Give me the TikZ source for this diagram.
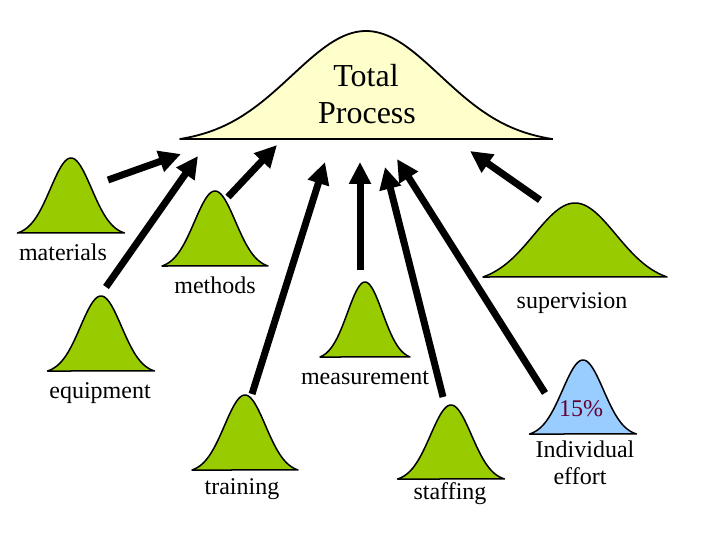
\documentclass[tikz,border=0pt]{standalone}
\usepackage{fontspec}
\setmainfont{Liberation Serif}
\usetikzlibrary{arrows.meta}
\definecolor{bellgreen}{HTML}{99CC00}
\definecolor{bellblue}{HTML}{99CCFF}
\definecolor{bellyellow}{HTML}{FFFFCC}
\definecolor{pctred}{HTML}{660033}
\newcommand{\bellcurve}[8]{% name, cx, by, halfw, h, sigma, fill, linewidth
  \pgfmathsetmacro{\bk}{#4/#6}%
  \pgfmathsetmacro{\bz}{exp(-\bk*\bk/2)}%
  \draw[line width=#8, line join=round, fill=#7]
    plot[domain=-\bk:\bk, samples=90, smooth] ({#2+\x*#6}, {#3-#5*(exp(-\x*\x/2)-\bz)/(1-\bz)}) -- cycle;
  \coordinate (#1) at (#2,#3);
}
\tikzset{
  bigarrow/.style={line width=7pt, -{Triangle[length=22pt,width=21pt]}},
  lbl/.style={font=\fontsize{24}{29}\selectfont, anchor=base, inner sep=0pt},
}
\begin{document}
\begin{tikzpicture}[x=1pt,y=-1pt]
\useasboundingbox (0,0) rectangle (720,540);
\fill[white] (0,0) rectangle (720,540);
% bells
\bellcurve{total}{366}{139}{186}{108}{74}{bellyellow}{1.8pt}
\draw[line width=2.5pt] (180,139) -- (553,139);
\bellcurve{materials}{71}{233}{53.5}{75}{20.5}{bellgreen}{1.5pt}
\bellcurve{methods}{215}{266}{53}{75}{20.5}{bellgreen}{1.5pt}
\bellcurve{supervision}{575}{277}{92}{74}{41}{bellgreen}{1.5pt}
\bellcurve{equipment}{101}{371}{53.5}{75}{20.5}{bellgreen}{1.5pt}
\bellcurve{training}{245}{470}{53}{75}{20.5}{bellgreen}{1.5pt}
\bellcurve{measurement}{365}{357}{45}{75}{17.5}{bellgreen}{1.5pt}
\bellcurve{staffing}{451}{479}{53.5}{74}{20.5}{bellgreen}{1.5pt}
\bellcurve{individual}{583}{434}{53.5}{74}{20.5}{bellblue}{1.5pt}
% texts
\node[lbl, font=\fontsize{32}{38}\selectfont] (ttotal) at (366,87) {Total};
\node[lbl, font=\fontsize{32}{38}\selectfont] (tprocess) at (367,124) {Process};
\node[lbl] (tmaterials) at (63,260) {materials};
\node[lbl] (tmethods) at (215,293) {methods};
\node[lbl] (tsupervision) at (572,308) {supervision};
\node[lbl] (tequipment) at (100,398) {equipment};
\node[lbl] (tmeasurement) at (365,384) {measurement};
\node[lbl] (ttraining) at (242,494) {training};
\node[lbl] (tstaffing) at (450,499) {staffing};
\node[lbl, text=pctred] (tpct) at (581,416) {15\%};
\node[lbl] (tindiv) at (585,457) {Individual};
\node[lbl] (teffort) at (580,484) {effort};
% arrow ends
\coordinate (a1t) at (108,180); \coordinate (a1h) at (181,154);
\coordinate (a2t) at (106,287); \coordinate (a2h) at (198,156);
\coordinate (a3t) at (228,197); \coordinate (a3h) at (277,145);
\coordinate (a4t) at (252,394); \coordinate (a4h) at (325,162);
\coordinate (a5t) at (360,270); \coordinate (a5h) at (360,162);
\coordinate (a6t) at (443,397); \coordinate (a6h) at (385,167);
\coordinate (a7t) at (545,393); \coordinate (a7h) at (397,159);
\coordinate (a8t) at (540,200); \coordinate (a8h) at (470,151);
\draw[bigarrow] (a1t) -- (a1h);
\draw[bigarrow] (a2t) -- (a2h);
\draw[bigarrow] (a3t) -- (a3h);
\draw[bigarrow] (a4t) -- (a4h);
\draw[bigarrow] (a5t) -- (a5h);
\draw[bigarrow] (a6t) -- (a6h);
\draw[bigarrow] (a7t) -- (a7h);
\draw[bigarrow] (a8t) -- (a8h);
\end{tikzpicture}
\end{document}
